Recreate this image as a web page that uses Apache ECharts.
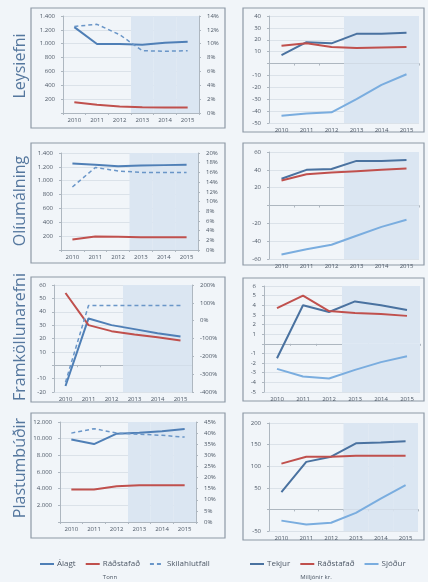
<!DOCTYPE html>
<html><head><meta charset="utf-8">
<script src="https://cdn.jsdelivr.net/npm/echarts@6/dist/echarts.min.js"></script>
<style>html,body{margin:0;padding:0;background:#f1f5f9;}#c{width:428px;height:582px;}</style>
</head><body><div id="c"></div>
<script>
// ---------- DATA ----------
const years = ['2010','2011','2012','2013','2014','2015'];
const forecastStart = 3; // 2013 onward is shaded (forecast)
const rowNames = ['Leysiefni','Olíumálning','Framköllunarefni','Plastumbúðir'];

// Left charts: Tonn (Álagt, Ráðstafað) and Skilahlutfall (%)
const alagt_leysiefni     = [1240, 995, 995, 985, 1015, 1030];
const radstafad_leysiefni = [155, 120, 95, 82, 80, 80];
const skil_leysiefni      = [12.5, 12.8, 11.3, 9.0, 8.9, 9.0];

const alagt_oliu     = [1250, 1230, 1210, 1220, 1225, 1230];
const radstafad_oliu = [150, 195, 190, 185, 185, 185];
const skil_oliu      = [13.0, 17.0, 16.3, 16.0, 16.0, 16.0];

const alagt_framk     = [-15.5, 35, 30, 27, 24, 21.5];
const radstafad_framk = [54, 30, 25.5, 23, 21, 18.5];
const skil_framk      = [-345, 85, 85, 85, 85, 85];

const alagt_plast     = [9900, 9350, 10600, 10700, 10900, 11150];
const radstafad_plast = [3900, 3900, 4300, 4400, 4400, 4400];
const skil_plast      = [40, 42, 40, 39.5, 39, 38.2];

// Right charts: Milljónir kr.
const tekjur_leysiefni = [7, 18, 17, 25, 25, 26];
const radkr_leysiefni  = [15, 17, 14, 13, 13.5, 14];
const sjodur_leysiefni = [-44, -42, -41, -30, -18, -9];

const tekjur_oliu = [30, 40, 41, 50, 50, 51];
const radkr_oliu  = [28, 35, 37, 38.5, 40, 41.5];
const sjodur_oliu = [-55, -49, -44, -34, -24, -16];

const tekjur_framk = [-1.5, 4.0, 3.3, 4.4, 4.0, 3.5];
const radkr_framk  = [3.7, 5.0, 3.4, 3.2, 3.1, 2.9];
const sjodur_framk = [-2.6, -3.4, -3.6, -2.7, -1.9, -1.3];

const tekjur_plast = [40, 110, 122, 153, 155, 158];
const radkr_plast  = [106, 122, 122, 124, 124, 124];
const sjodur_plast = [-26, -35, -31, -8, 25, 56];

// Axis ticks [min, max, interval]
const leftPrimaryTicks   = [[0,1400,200],[0,1400,200],[-20,60,10],[0,12000,2000]];
const leftSecondaryTicks = [[0,14,2],[0,20,2],[-400,200,100],[0,45,5]];
const rightTicks         = [[-50,40,10],[-60,60,20],[-5,6,1],[-50,200,50]];

const leftSets = [
  [alagt_leysiefni, radstafad_leysiefni, skil_leysiefni],
  [alagt_oliu, radstafad_oliu, skil_oliu],
  [alagt_framk, radstafad_framk, skil_framk],
  [alagt_plast, radstafad_plast, skil_plast]
];
const rightSets = [
  [tekjur_leysiefni, radkr_leysiefni, sjodur_leysiefni],
  [tekjur_oliu, radkr_oliu, sjodur_oliu],
  [tekjur_framk, radkr_framk, sjodur_framk],
  [tekjur_plast, radkr_plast, sjodur_plast]
];

// ---------- LAYOUT / STYLE ----------
const leftPlots = [
  {left:63, top:16, width:136, height:97},
  {left:61, top:153, width:137, height:97},
  {left:54, top:285, width:138, height:107},
  {left:60, top:422, width:136, height:100}
];
const rightPlots = [
  {left:269, top:16, width:150, height:107},
  {left:269, top:152, width:150, height:107},
  {left:264, top:286, width:156, height:106},
  {left:269, top:423, width:149, height:108}
];
const boxes = [
  [31,8,194,120],[243,8,181,124],
  [31,143,194,120],[243,143,181,122],
  [31,277,194,125],[243,278,181,123],
  [31,413,194,125],[243,413,181,127]
];
const rowLabelY = [66, 201, 337, 468];

const COL = {alagt:'#4f7fb6', radst:'#c0504d', skil:'#6a96c8', tekjur:'#4a72a0', sjodur:'#7aaddf'};
const SHADE = '#dbe6f2';
const TXT = '#4d5866';
const AX = '#aeb7c0';

function thou(v){
  if (v === 0) return '';
  const s = Math.abs(v).toString().replace(/\B(?=(\d{3})+(?!\d))/g, '.');
  return (v < 0 ? '-' : '') + s;
}
function pct(v){ return v + '%'; }

const grids = [], xAxes = [], yAxes = [], series = [];

function addGrid(p){
  grids.push(Object.assign({outerBoundsMode:'none', containLabel:false}, p));
  return grids.length - 1;
}
function addX(gi, zeroY){
  xAxes.push({
    type:'category', gridIndex:gi, data:years, boundaryGap:true,
    axisLine:{show:true, onZero:true, onZeroAxisIndex:zeroY, lineStyle:{color:AX, width:1}},
    axisTick:{show:true, length:2, lineStyle:{color:AX}},
    axisLabel:{fontSize:6, color:TXT, margin:4, interval:0, fontFamily:'Open Sans'},
    splitLine:{show:false}
  });
  return xAxes.length - 1;
}
function addY(gi, t, opts){
  yAxes.push(Object.assign({
    type:'value', gridIndex:gi, min:t[0], max:t[1], interval:t[2],
    axisLine:{show:true, lineStyle:{color:AX, width:1}},
    axisTick:{show:true, length:2, lineStyle:{color:AX}},
    splitLine:{show:true, lineStyle:{color:'#d6dde4', width:0.8}},
    axisLabel:{fontSize:6, color:TXT, margin:8, fontFamily:'Open Sans', formatter:thou}
  }, opts || {}));
  return yAxes.length - 1;
}
function addShade(xi, yi, t){
  const top = years.map((y,i) => i >= forecastStart ? t[1] : null);
  series.push({type:'bar', xAxisIndex:xi, yAxisIndex:yi, stack:'shade'+xi, data:top,
    barCategoryGap:'0%', barGap:'0%', itemStyle:{color:SHADE}, silent:true, z:1});
  if (t[0] < 0) {
    const bot = years.map((y,i) => i >= forecastStart ? t[0] : null);
    series.push({type:'bar', xAxisIndex:xi, yAxisIndex:yi, stack:'shade'+xi, data:bot,
      barCategoryGap:'0%', barGap:'0%', itemStyle:{color:SHADE}, silent:true, z:1});
  }
}
function addLine(name, xi, yi, data, color, dashed){
  series.push({type:'line', name:name, xAxisIndex:xi, yAxisIndex:yi, data:data,
    symbol:'none', z:3,
    lineStyle:{color:color, width: dashed ? 1.5 : 2, type: dashed ? [4,3] : 'solid'},
    itemStyle:{color:color}});
}

for (let r = 0; r < 4; r++) {
  const gL = addGrid(leftPlots[r]);
  const yP = addY(gL, leftPrimaryTicks[r]);
  const yS = addY(gL, leftSecondaryTicks[r], {position:'right', splitLine:{show:false},
    axisLabel:{fontSize:6, color:TXT, margin:8, fontFamily:'Open Sans', formatter:pct}});
  const xL = addX(gL, yP);
  addShade(xL, yP, leftPrimaryTicks[r]);
  const ls = leftSets[r];
  addLine('Álagt', xL, yP, ls[0], COL.alagt, false);
  addLine('Ráðstafað', xL, yP, ls[1], COL.radst, false);
  addLine('Skilahlutfall', xL, yS, ls[2], COL.skil, true);

  const gR = addGrid(rightPlots[r]);
  const yR = addY(gR, rightTicks[r]);
  const xR = addX(gR, yR);
  addShade(xR, yR, rightTicks[r]);
  const rs = rightSets[r];
  addLine('Tekjur', xR, yR, rs[0], COL.tekjur, false);
  addLine('Ráðstafað', xR, yR, rs[1], COL.radst, false);
  addLine('Sjóður', xR, yR, rs[2], COL.sjodur, false);
}

const graphics = [];
boxes.forEach(b => graphics.push({type:'rect', silent:true, z:-1,
  shape:{x:b[0], y:b[1], width:b[2], height:b[3]},
  style:{fill:'rgba(0,0,0,0)', stroke:'#8e99a6', lineWidth:1.2}}));
rowNames.forEach((n,i) => graphics.push({type:'text', x:20, y:rowLabelY[i], rotation:Math.PI/2,
  style:{text:n, fontSize:16, fontFamily:'Open Sans', fill:'#55779e', align:'center', verticalAlign:'middle'}}));
graphics.push({type:'text', x:110, y:577, style:{text:'Tonn', fontSize:6, fill:TXT, align:'center', verticalAlign:'middle', fontFamily:'Open Sans'}});
graphics.push({type:'text', x:316, y:577, style:{text:'Milljónir kr.', fontSize:6, fill:TXT, align:'center', verticalAlign:'middle', fontFamily:'Open Sans'}});

const legendCommon = {top:555, itemWidth:14, itemHeight:8, itemGap:9,
  itemStyle:{opacity:0},
  textStyle:{fontSize:8, color:TXT, fontFamily:'Open Sans', padding:[0,0,0,-2]}};

const chart = echarts.init(document.getElementById('c'), null, {renderer:'canvas'});
chart.setOption({
  animation:false,
  backgroundColor:'#f1f5f9',
  grid:grids, xAxis:xAxes, yAxis:yAxes, series:series,
  legend:[
    Object.assign({data:['Álagt','Ráðstafað','Skilahlutfall'], left:34}, legendCommon),
    Object.assign({data:['Tekjur','Ráðstafað','Sjóður'], left:244}, legendCommon)
  ],
  graphic:graphics
});
</script></body></html>
